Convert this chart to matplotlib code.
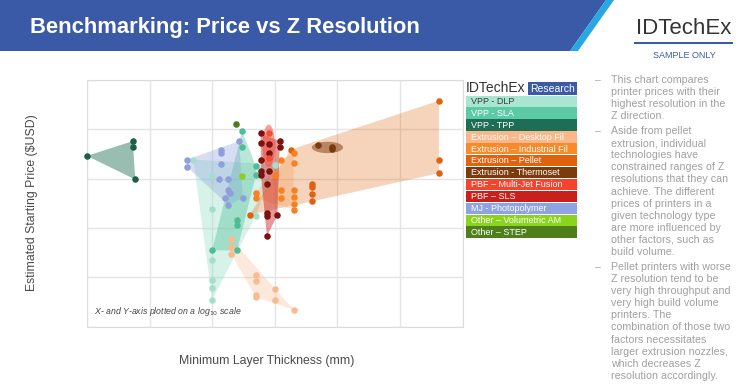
import numpy as np
import matplotlib.pyplot as plt
from matplotlib.patches import Polygon, Rectangle

plt.rcParams['font.family'] = ['Liberation Sans', 'DejaVu Sans']

W, H = 744, 387

# ---- data: minimum layer thickness (mm) vs estimated starting price (USD) ----
dlp_x = [0.005, 0.01, 0.01, 0.01, 0.01, 0.01, 0.01, 0.05, 0.1]
dlp_y = [244000, 112000, 24700, 2270, 889, 606, 349, 17800, 192000]

sla_x = [0.03, 0.03, 0.025, 0.025, 0.025, 0.01, 0.05, 0.05]
sla_y = [920000, 441000, 14300, 11300, 3500, 3500, 179000, 117000]

tpp_x = [0.0001, 0.00054, 0.00054, 0.00059]
tpp_y = [289000, 576000, 435000, 96000]

desk_x = [0.02, 0.02, 0.02, 0.05, 0.05, 0.05, 0.05, 0.1, 0.1, 0.2]
desk_y = [6060, 4090, 3000, 1090, 822, 427, 394, 584, 349, 218]

ind_x = [0.2, 0.2, 0.127, 0.1, 0.127, 0.127, 0.2, 0.2, 0.2, 0.2, 0.05, 0.05]
ind_y = [324000, 203000, 237000, 120000, 58100, 39500, 58100, 41900, 30200, 23500, 51700, 40500]

pellet_x = [0.04, 0.18, 0.4, 0.4, 0.4, 0.4, 42, 42, 42]
pellet_y = [18500, 387000, 79500, 67800, 48200, 34700, 3800000, 244000, 129000]

thermo_x = [0.5, 0.82, 0.82]
thermo_y = [471000, 429000, 390000]

mjf_x = [0.08, 0.08]
mjf_y = [826000, 260000]

sls_x = [0.06, 0.06, 0.12, 0.12, 0.06, 0.08, 0.08, 0.08, 0.06, 0.06, 0.075, 0.075, 0.075, 0.11, 0.075]
sls_y = [826000, 517000, 576000, 429000, 244000, 493000, 336000, 143000, 143000, 120000,
         76900, 19800, 17500, 18000, 6850]

mj_x = [0.004, 0.004, 0.014, 0.014, 0.014, 0.013, 0.018, 0.018, 0.019, 0.016, 0.018, 0.031, 0.027]
mj_y = [244000, 171000, 378000, 336000, 196000, 100000, 100000, 58000, 50500, 40000, 29500, 40000, 576000]

vol_x = [0.03]
vol_y = [113000]

step_x = [0.024]
step_y = [1260000]

categories = ['VPP - DLP', 'VPP - SLA', 'VPP - TPP', 'Extrusion \u2013 Desktop Fil',
              'Extrusion \u2013 Industrial Fil', 'Extrusion \u2013 Pellet', 'Extrusion - Thermoset',
              'PBF \u2013 Multi-Jet Fusion', 'PBF \u2013 SLS', 'MJ - Photopolymer',
              'Other \u2013 Volumetric AM', 'Other \u2013 STEP']
legend_colors = ['#a8e6d2', '#5ccaa5', '#1e6e55', '#f9b78a', '#f88a2a', '#e0620e', '#7c3b0c',
                 '#f4442e', '#c9201c', '#8fa3e0', '#8ad41f', '#4e7f1b']

notes = [
    ['This chart compares', 'printer prices with their', 'highest resolution in the', 'Z direction.'],
    ['Aside from pellet', 'extrusion, individual', 'technologies have', 'constrained ranges of Z',
     'resolutions that they can', 'achieve. The different', 'prices of printers in a',
     'given technology type', 'are more influenced by', 'other factors, such as', 'build volume.'],
    ['Pellet printers with worse', 'Z resolution tend to be', 'very high throughput and',
     'very high build volume', 'printers. The', 'combination of those two', 'factors necessitates',
     'larger extrusion nozzles,', 'which decreases Z', 'resolution accordingly.'],
]


def fx(x):
    return x / W


def fy(y):
    return 1 - y / H


def hull(xs, ys):
    pts = sorted(set(zip(np.log10(xs), np.log10(ys))))
    if len(pts) < 3:
        return pts

    def cross(o, a, b):
        return (a[0] - o[0]) * (b[1] - o[1]) - (a[1] - o[1]) * (b[0] - o[0])

    lower, upper = [], []
    for p in pts:
        while len(lower) >= 2 and cross(lower[-2], lower[-1], p) <= 0:
            lower.pop()
        lower.append(p)
    for p in reversed(pts):
        while len(upper) >= 2 and cross(upper[-2], upper[-1], p) <= 0:
            upper.pop()
        upper.append(p)
    return lower[:-1] + upper[:-1]


def ellipse(xs, ys, rx, ry):
    cx, cy = np.mean(np.log10(xs)), np.mean(np.log10(ys))
    t = np.linspace(0, 2 * np.pi, 80)
    return list(zip(cx + rx * np.cos(t), cy + ry * np.sin(t)))


fig = plt.figure(figsize=(W / 100, H / 100), dpi=100)

# ---- header band ----
fig.add_artist(Polygon([(fx(0), fy(0)), (fx(606), fy(0)), (fx(570), fy(51)), (fx(0), fy(51))],
                       closed=True, transform=fig.transFigure, color='#3a5aa8', lw=0))
fig.add_artist(Polygon([(fx(606), fy(0)), (fx(614), fy(0)), (fx(578), fy(51)), (fx(570), fy(51))],
                       closed=True, transform=fig.transFigure, color='#27a8e0', lw=0))
fig.text(fx(30), fy(27), 'Benchmarking: Price vs Z Resolution', color='white',
         fontsize=15.8, fontweight='bold', va='center', ha='left')
fig.text(fx(684), fy(29), 'IDTechEx', color='#333333', fontsize=16, va='center', ha='center')
fig.add_artist(Rectangle((fx(634), fy(44)), 99 / W, 2 / H, transform=fig.transFigure,
                         color='#3a5aa8', lw=0))
fig.text(fx(684), fy(55), 'SAMPLE ONLY', color='#3a5aa8', fontsize=6.5, va='center', ha='center')

# ---- main chart ----
ax = fig.add_axes([fx(87), fy(326.5), (462.5 - 87) / W, (326.5 - 80) / H])
ax.set_xscale('log')
ax.set_yscale('log')
ax.set_xlim(1e-4, 1e2)
ax.set_ylim(1e2, 1e7)
ax.minorticks_off()
ax.set_xticks([1e-4, 1e-3, 1e-2, 1e-1, 1, 10, 100])
ax.set_yticks([1e2, 1e3, 1e4, 1e5, 1e6, 1e7])
ax.tick_params(which='both', length=0, labelbottom=False, labelleft=False)
ax.grid(True, color='#e4e4e4', lw=1)
ax.set_axisbelow(True)
for s in ax.spines.values():
    s.set_color('#dcdcdc')

groups = [
    # x, y, point colour, fill colour, fill alpha, shape
    (dlp_x, dlp_y, '#a3e0cb', '#8fdcc2', 0.35, 'hull'),
    (sla_x, sla_y, '#4dbd96', '#4fc29b', 0.4, 'hull'),
    (tpp_x, tpp_y, '#1d5e48', '#1f6e55', 0.45, 'hull'),
    (desk_x, desk_y, '#f7bb91', '#f8b98a', 0.3, 'hull'),
    (pellet_x, pellet_y, '#de6310', '#e0650f', 0.28, 'hull'),
    (ind_x, ind_y, '#f5821f', '#f7862a', 0.22, 'hull'),
    (thermo_x, thermo_y, '#7a3a10', '#7b3a0b', 0.5, (0.25, 0.115)),
    (sls_x, sls_y, '#7d1010', '#c9201c', 0.45, 'hull'),
    (mjf_x, mjf_y, '#f0503a', '#f0462e', 0.5, (0.1, 0.43)),
    (mj_x, mj_y, '#8e9fdc', '#8ea0dd', 0.35, 'hull'),
    (vol_x, vol_y, '#8bd020', '#8bd020', 0, None),
    (step_x, step_y, '#4d7a1a', '#4d7a1a', 0, None),
]

for gx, gy, pc, fc, fa, shape in groups:
    if shape == 'hull':
        verts = hull(gx, gy)
    elif shape is not None:
        verts = ellipse(gx, gy, *shape)
    else:
        verts = []
    if len(verts) >= 3:
        vx, vy = zip(*verts)
        ax.fill(10 ** np.array(vx), 10 ** np.array(vy), color=fc, alpha=fa, lw=0, zorder=1)

for gx, gy, pc, fc, fa, shape in groups:
    ax.scatter(gx, gy, s=22, color=pc, lw=0, zorder=3, clip_on=False)

ax.text(0.018, 0.035, r'X- and Y-axis plotted on a log$_{10}$ scale', transform=ax.transAxes,
        fontsize=6.3, style='italic', color='#444444', ha='left', va='bottom')

fig.text(fx(32), fy(203), r'Estimated Starting Price (\$USD)', rotation=90, color='#4a4a4a',
         fontsize=8.8, ha='center', va='center')
fig.text(fx(267), fy(361), 'Minimum Layer Thickness (mm)', color='#4a4a4a',
         fontsize=8.8, ha='center', va='center')

# ---- legend block ----
fig.text(fx(466), fy(88.5), 'IDTechEx', color='#333333', fontsize=10, ha='left', va='center',
         family=['Liberation Sans Narrow', 'Liberation Sans'])
fig.add_artist(Rectangle((fx(528), fy(95)), 49 / W, 13 / H, transform=fig.transFigure,
                         color='#3a5aa8', lw=0))
fig.text(fx(552.5), fy(88.5), 'Research', color='white', fontsize=7.5, ha='center', va='center',
         family=['Liberation Sans Narrow', 'Liberation Sans'])
row_h = 11.9
for i, (name, col) in enumerate(zip(categories, legend_colors)):
    top = 95.5 + i * row_h
    fig.add_artist(Rectangle((fx(466), fy(top + row_h - 0.6)), 111 / W, (row_h - 0.6) / H,
                             transform=fig.transFigure, color=col, lw=0))
    fig.text(fx(471), fy(top + row_h / 2), name, color='#3a3a3a' if i == 0 else 'white',
             fontsize=6.5, ha='left', va='center',
             family=['Liberation Sans Narrow', 'Liberation Sans'])

# ---- side notes ----
line_h = 12.1
starts = [80, 131, 267]
for start, lines in zip(starts, notes):
    fig.text(fx(595), fy(start), '\u2013', color='#9aaad8', fontsize=7.5, ha='left', va='center')
    for j, line in enumerate(lines):
        fig.text(fx(611), fy(start + j * line_h), line, color='#a0a0a0', fontsize=7.7,
                 ha='left', va='center')

fig.savefig('out.png', dpi=100)
